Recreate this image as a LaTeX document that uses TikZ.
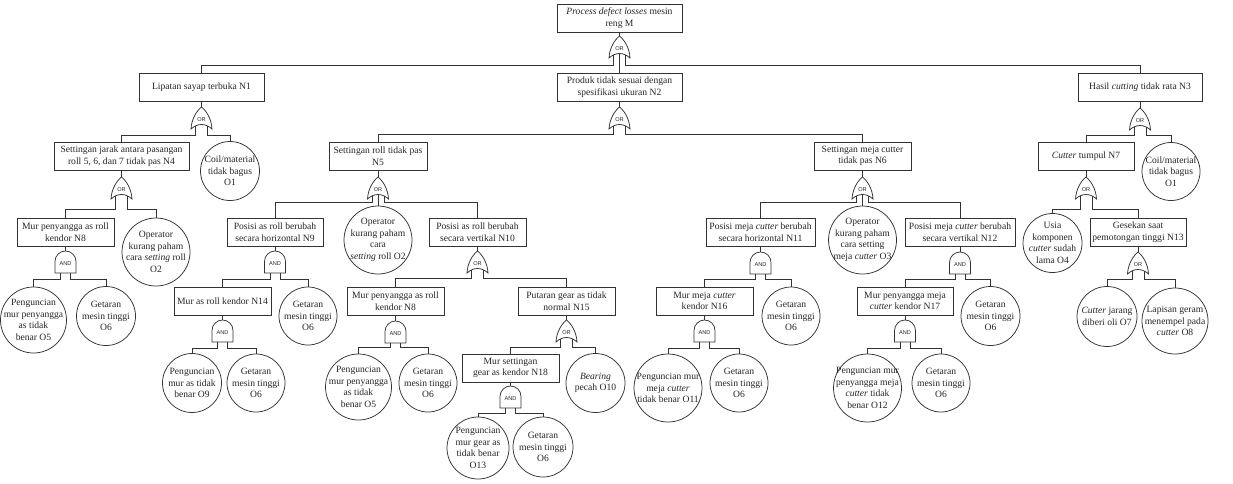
\documentclass[tikz,border=0pt]{standalone}
\usepackage{fontspec}
\setmainfont{Liberation Serif}
\newfontfamily\gatefont{Liberation Sans}
\newcommand\bx[6]{\node[box, minimum width={(#4-#2)*1pt}, minimum height={(#5-#3)*1pt}] (#1) at ({(#2+#4)/2},{(#3+#5)/2}) {#6};}
\newcommand\ev[5]{\node[ev, minimum size={2*#4*1pt}, label={[evl]center:{#5}}] (#1) at (#2,#3) {};}
\newcommand\orgate[4]{%
 \begin{scope}[shift={(#2,#3)}]
  \draw[line, fill=white] (-10.5,22) .. controls (-10,12) and (-5,4) .. (0,0) .. controls (5,4) and (10,12) .. (10.5,22) .. controls (4,16) and (-4,16) .. cycle;
  \node[gatelbl] (#1-lbl) at (0,12.5) {OR};
  \coordinate (#1-t) at (0,0);
  \coordinate (#1-l) at (-6,19);
  \coordinate (#1-r) at (6,19);
  \coordinate (#1-c) at (0,17.5);
 \end{scope}
 \coordinate (#1-lb) at (#2-6,#4);
 \coordinate (#1-rb) at (#2+6,#4);
}
\newcommand\andgate[4]{%
 \begin{scope}[shift={(#2,#3)}]
  \draw[line, fill=white] (-10.5,22) -- (-10.5,10.5) arc[start angle=180, end angle=360, radius=10.5] -- (10.5,22) -- cycle;
  \node[gatelbl] (#1-lbl) at (0,13) {AND};
  \coordinate (#1-t) at (0,0);
  \coordinate (#1-l) at (-5,22);
  \coordinate (#1-r) at (5,22);
  \coordinate (#1-c) at (0,22);
 \end{scope}
 \coordinate (#1-lb) at (#2-5,#4);
 \coordinate (#1-rb) at (#2+5,#4);
}
\newcommand\conT[2]{\draw[line] (#1.south) -- (#2-t);}
\newcommand\conL[2]{\draw[line] (#1-l) -- (#1-lb) -| (#2.north);}
\newcommand\conR[2]{\draw[line] (#1-r) -- (#1-rb) -| (#2.north);}
\newcommand\conC[2]{\draw[line] (#1-c) -- (#2.north);}
\begin{document}
\begin{tikzpicture}[x=1pt,y=-1pt,
 line/.style={draw=black!80, line width=0.75pt},
 box/.style={draw=black!80, line width=0.75pt, fill=white, rectangle, inner sep=0pt, align=center, font=\fontsize{9.6}{11.5}\selectfont, text=black!85},
 ev/.style={draw=black!80, line width=0.75pt, fill=white, circle, inner sep=0pt},
 evl/.style={align=center, font=\fontsize{9.6}{11.5}\selectfont, text=black!85, inner sep=0pt},
 gatelbl/.style={font=\gatefont\fontsize{5.6}{5.6}\selectfont, inner sep=0pt, text=black!85}]
\useasboundingbox[fill=white] (0,0) rectangle (1233,483);

% boxes
\bx{M}{557}{4}{682}{32}{\textit{Process defect losses} mesin\\reng M}
\bx{N1}{139}{73}{264}{101}{Lipatan sayap terbuka N1}
\bx{N2}{557}{73}{682}{101}{Produk tidak sesuai dengan\\spesifikasi ukuran N2}
\bx{N3}{1078}{73}{1202}{101}{Hasil \textit{cutting} tidak rata N3}
\bx{N4}{54}{142}{189}{170}{Settingan jarak antara pasangan\\roll 5, 6, dan 7 tidak pas N4}
\bx{N5}{329}{142}{427}{170}{Settingan roll tidak pas\\N5}
\bx{N6}{814}{142}{911}{170}{Settingan meja cutter\\tidak pas N6}
\bx{N7}{1038}{142}{1134}{170}{\textit{Cutter} tumpul N7}
\bx{N8a}{17}{218}{114}{246}{Mur penyangga as roll\\kendor N8}
\bx{N9}{227}{218}{323}{246}{Posisi as roll berubah\\secara horizontal N9}
\bx{N10}{429}{218}{526}{246}{Posisi as roll berubah\\secara vertikal N10}
\bx{N11}{706}{218}{815}{246}{Posisi meja \textit{cutter} berubah\\secara horizontal N11}
\bx{N12}{905}{218}{1015}{246}{Posisi meja \textit{cutter} berubah\\secara vertikal N12}
\bx{N13}{1090}{218}{1186}{246}{Gesekan saat\\pemotongan tinggi N13}
\bx{N14}{174}{287}{271}{315}{Mur as roll kendor N14}
\bx{N8b}{347}{287}{444}{315}{Mur penyangga as roll\\kendor N8}
\bx{N15}{518}{287}{615}{315}{Putaran gear as tidak\\normal N15}
\bx{N16}{656}{287}{753}{315}{Mur meja \textit{cutter}\\kendor N16}
\bx{N17}{857}{287}{953}{315}{Mur penyangga meja\\\textit{cutter} kendor N17}
\bx{N18}{462}{354}{559}{382}{Mur settingan\\gear as kendor N18}

% basic events
\ev{O1a}{230}{171}{29.5}{Coil/material\\tidak bagus\\O1}
\ev{O2a}{156}{252}{34}{Operator\\kurang paham\\cara \textit{setting} roll\\O2}
\ev{O5a}{33.5}{320}{33}{Penguncian\\mur penyangga\\as tidak\\benar O5}
\ev{O6a}{106}{316}{29.5}{Getaran\\mesin tinggi\\O6}
\ev{O2b}{378}{240}{34}{Operator\\kurang paham\\cara\\\textit{setting} roll O2}
\ev{O6b}{308}{316}{29}{Getaran\\mesin tinggi\\O6}
\ev{O9}{192}{383}{29.5}{Penguncian\\mur as tidak\\benar O9}
\ev{O6c}{256}{383}{29}{Getaran\\mesin tinggi\\O6}
\ev{O5b}{358.5}{387}{33}{Penguncian\\mur penyangga\\as tidak\\benar O5}
\ev{O6d}{428}{383}{29}{Getaran\\mesin tinggi\\O6}
\ev{O10}{595.5}{383}{29.5}{\textit{Bearing}\\pecah O10}
\ev{O13}{478}{448}{31}{Penguncian\\mur gear as\\tidak benar\\O13}
\ev{O6e}{543}{447}{30}{Getaran\\mesin tinggi\\O6}
\ev{O3}{862.5}{240}{34}{Operator\\kurang paham\\cara setting\\meja \textit{cutter} O3}
\ev{O6f}{791}{316}{29}{Getaran\\mesin tinggi\\O6}
\ev{O11}{668}{388}{34}{Penguncian mur\\meja \textit{cutter}\\tidak benar O11}
\ev{O6g}{739}{383}{29}{Getaran\\mesin tinggi\\O6}
\ev{O6h}{990.5}{316}{29.5}{Getaran\\mesin tinggi\\O6}
\ev{O12}{867.5}{388}{34}{Penguncian mur\\penyangga meja\\\textit{cutter} tidak\\benar O12}
\ev{O6i}{941}{383}{29}{Getaran\\mesin tinggi\\O6}
\ev{O1b}{1171}{171.5}{29}{Coil/material\\tidak bagus\\O1}
\ev{O4}{1052.5}{243}{29.5}{Usia\\komponen\\\textit{cutter} sudah\\lama O4}
\ev{O7}{1107}{316.5}{30}{\textit{Cutter} jarang\\diberi oli O7}
\ev{O8}{1175}{321}{33}{Lapisan geram\\menempel pada\\\textit{cutter} O8}

% gates
\orgate{G0}{619.5}{36}{65}
\orgate{G1}{201.5}{107}{135}
\orgate{G2}{619.5}{107}{134}
\orgate{G3}{1140}{108}{135}
\orgate{G4}{121.5}{177}{209}
\orgate{G5}{378}{177}{202}
\orgate{G6}{862.5}{177}{202}
\orgate{G7}{1086}{177}{209}
\andgate{G8a}{65.5}{251}{279}
\andgate{G9}{275}{251}{279}
\orgate{G10}{477.5}{251}{278}
\andgate{G11}{760.5}{252}{279}
\andgate{G12}{960}{252}{279}
\orgate{G13}{1138}{252}{279}
\andgate{G14}{222.5}{320}{348}
\andgate{G8b}{395.5}{321}{347}
\orgate{G15}{566.5}{320}{347}
\andgate{G16}{704.5}{320}{348}
\andgate{G17}{905}{320}{348}
\andgate{G18}{510.5}{386}{413}

% connectors
\conT{M}{G0}\conL{G0}{N1}\conR{G0}{N3}\conC{G0}{N2}
\conT{N1}{G1}\conL{G1}{N4}\conR{G1}{O1a}
\conT{N2}{G2}\conL{G2}{N5}\conR{G2}{N6}
\conT{N3}{G3}\conL{G3}{N7}\conR{G3}{O1b}
\conT{N4}{G4}\conL{G4}{N8a}\conR{G4}{O2a}
\conT{N5}{G5}\conL{G5}{N9}\conC{G5}{O2b}\conR{G5}{N10}
\conT{N6}{G6}\conL{G6}{N11}\conC{G6}{O3}\conR{G6}{N12}
\conT{N7}{G7}\conL{G7}{O4}\conR{G7}{N13}
\conT{N8a}{G8a}\conL{G8a}{O5a}\conR{G8a}{O6a}
\conT{N9}{G9}\conL{G9}{N14}\conR{G9}{O6b}
\conT{N10}{G10}\conL{G10}{N8b}\conR{G10}{N15}
\conT{N11}{G11}\conL{G11}{N16}\conR{G11}{O6f}
\conT{N12}{G12}\conL{G12}{N17}\conR{G12}{O6h}
\conT{N13}{G13}\conL{G13}{O7}\conR{G13}{O8}
\conT{N14}{G14}\conL{G14}{O9}\conR{G14}{O6c}
\conT{N8b}{G8b}\conL{G8b}{O5b}\conR{G8b}{O6d}
\conT{N15}{G15}\conL{G15}{N18}\conR{G15}{O10}
\conT{N16}{G16}\conL{G16}{O11}\conR{G16}{O6g}
\conT{N17}{G17}\conL{G17}{O12}\conR{G17}{O6i}
\conT{N18}{G18}\conL{G18}{O13}\conR{G18}{O6e}
\end{tikzpicture}
\end{document}
